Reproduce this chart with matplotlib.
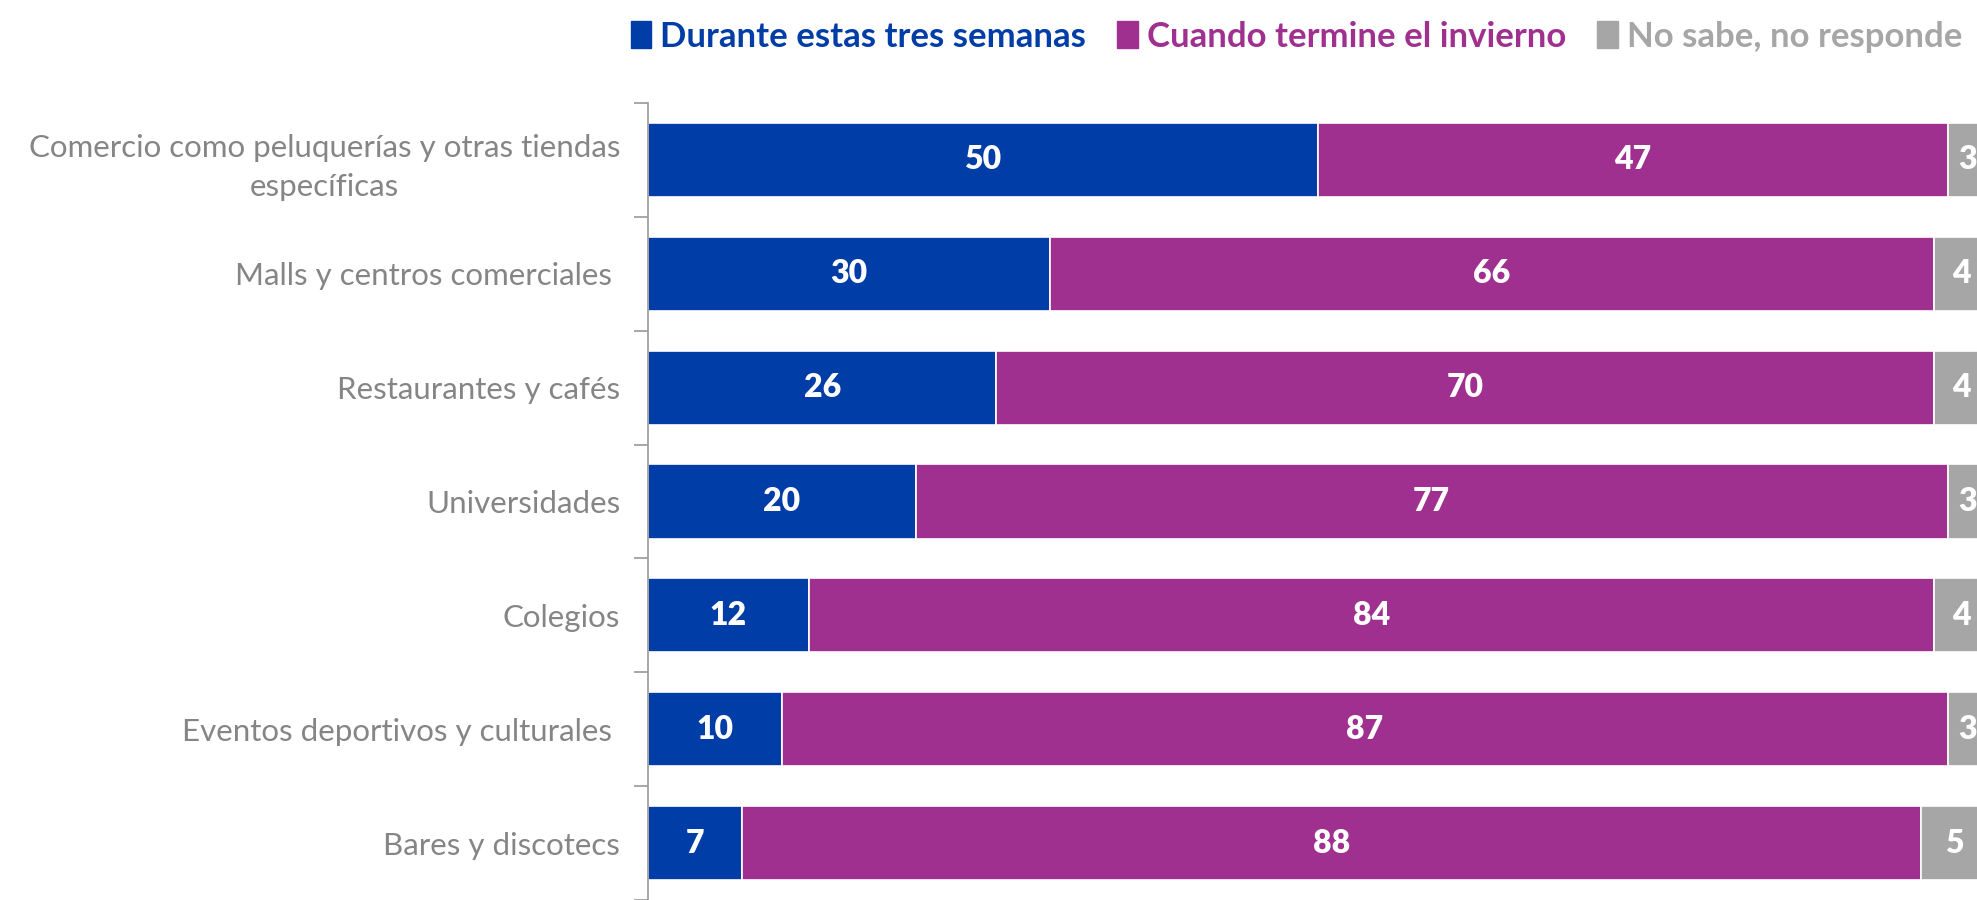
import numpy as np
import matplotlib
matplotlib.use('Agg')
import matplotlib.pyplot as plt
from matplotlib.patches import Patch

plt.rcParams['font.family'] = ['Lato', 'DejaVu Sans']

categories = ['Comercio como peluquerías y otras tiendas\nespecíficas',
              'Malls y centros comerciales ',
              'Restaurantes y cafés',
              'Universidades',
              'Colegios',
              'Eventos deportivos y culturales ',
              'Bares y discotecs']
durante = [50, 30, 26, 20, 12, 10, 7]
cuando = [47, 66, 70, 77, 84, 87, 88]
nsnr = [3, 4, 4, 3, 4, 3, 5]
series_names = ['Durante estas tres semanas', 'Cuando termine el invierno', 'No sabe, no responde']
colors = ['#003DA6', '#A0308F', '#A6A6A6']

fig = plt.figure(figsize=(19.77, 9), dpi=100)
ax = fig.add_axes([648 / 1977, 0.0, 1 - 648 / 1977, 1 - 103 / 900])

y = np.arange(len(categories))
left = np.zeros(len(categories))
for vals, col in zip([durante, cuando, nsnr], colors):
    vals = np.array(vals, dtype=float)
    ax.barh(y, vals, left=left, height=0.65, color=col,
            edgecolor='white', linewidth=1.2)
    for yy, l, v in zip(y, left, vals):
        ax.text(l + v / 2, yy, f'{int(v)}', ha='center', va='center',
                color='white', fontsize=23, fontweight='heavy')
    left += vals

ax.set_xlim(0, 99.2)
ax.set_ylim(len(categories) - 0.5, -0.5)
ax.set_xticks([])
ax.set_yticks(y)
ax.set_yticklabels(categories, fontsize=22.5, color='#858585', fontweight='normal',
                   multialignment='center', linespacing=1.45)
ax.tick_params(axis='y', which='major', length=0, pad=20)
ax.set_yticks(np.arange(-0.5, len(categories), 1), minor=True)
ax.tick_params(axis='y', which='minor', length=10, color='#A0A0A0', width=1.3)
for s in ['top', 'right', 'bottom']:
    ax.spines[s].set_visible(False)
ax.spines['left'].set_color('#A0A0A0')
ax.spines['left'].set_linewidth(1.3)

handles = [Patch(color=c, label=n) for c, n in zip(colors, series_names)]
leg = fig.legend(handles=handles, loc='upper right', bbox_to_anchor=(1.003, 1.0),
                 ncol=3, frameon=False, handlelength=0.6,
                 handleheight=0.8, handletextpad=0.25, columnspacing=0.9,
                 borderaxespad=0.2, prop={'weight': 'bold', 'size': 25})
for t, c in zip(leg.get_texts(), colors):
    t.set_color(c)

fig.savefig('out.png', dpi=100)
